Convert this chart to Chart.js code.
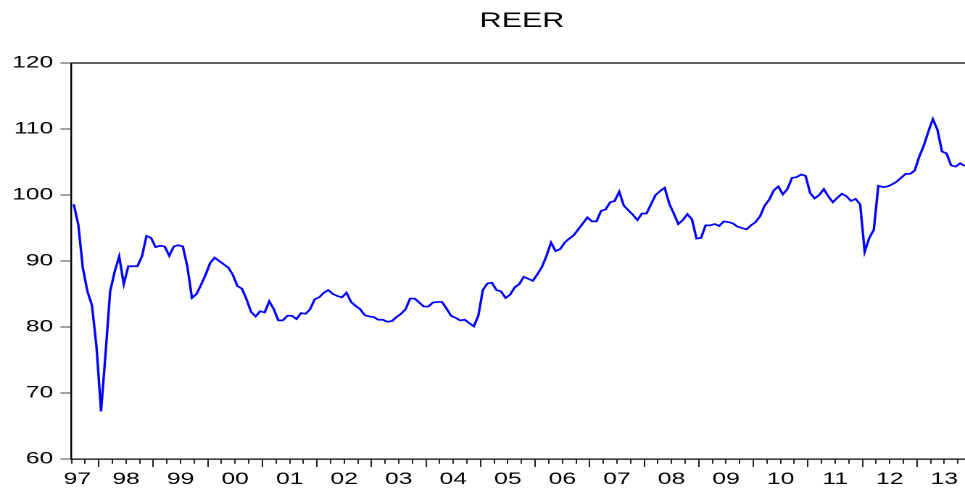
<!DOCTYPE html>
<html>
<head>
<meta charset="utf-8">
<script src="https://cdn.jsdelivr.net/npm/chart.js@4/dist/chart.umd.min.js"></script>
<style>
    html, body { margin: 0; padding: 0; background: #fff; overflow: hidden; }
    /* the source picture is stretched sideways, so the whole chart is widened */
    #wrap { width: 672px; height: 490px; transform: scaleX(1.45); transform-origin: 0 0; }
</style>
</head>
<body>
<div id="wrap"><canvas id="myChart" width="672" height="490" style="width:672px;height:490px"></canvas></div>
<script>
// monthly REER, 1997M07 .. 2013M11
const startYear = 1997;
const startMonth = 7;
const reer = [
    98.6, 95.5, 88.9, 85.4, 83.3, 77.0, 67.2, 76.0, 85.4, 88.4, 90.7, 86.5,
    89.2, 89.2, 89.2, 90.7, 93.8, 93.5, 92.1, 92.3, 92.2, 90.8, 92.2, 92.4,
    92.2, 89.1, 84.4, 85.0, 86.4, 87.9, 89.7, 90.5, 90.0, 89.5, 89.0, 87.9,
    86.2, 85.8, 84.2, 82.3, 81.6, 82.4, 82.2, 83.9, 82.7, 81.0, 81.0, 81.7,
    81.7, 81.2, 82.1, 82.0, 82.7, 84.2, 84.5, 85.2, 85.6, 85.0, 84.7, 84.5,
    85.2, 83.8, 83.2, 82.7, 81.8, 81.6, 81.5, 81.1, 81.1, 80.8, 80.9, 81.5,
    82.0, 82.7, 84.3, 84.3, 83.7, 83.1, 83.1, 83.7, 83.8, 83.8, 82.8, 81.7,
    81.4, 81.0, 81.1, 80.6, 80.1, 81.7, 85.6, 86.6, 86.7, 85.6, 85.4, 84.4,
    84.9, 86.0, 86.5, 87.6, 87.3, 87.0, 88.0, 89.1, 90.8, 92.8, 91.5, 91.8,
    92.8, 93.4, 93.9, 94.8, 95.7, 96.6, 96.0, 96.0, 97.6, 97.8, 98.9, 99.1,
    100.5, 98.4, 97.7, 97.0, 96.2, 97.2, 97.2, 98.6, 100.0, 100.6, 101.1, 98.7,
    97.2, 95.6, 96.2, 97.1, 96.3, 93.4, 93.5, 95.4, 95.4, 95.6, 95.3, 96.0,
    95.9, 95.7, 95.2, 95.0, 94.8, 95.4, 95.9, 96.8, 98.4, 99.3, 100.7, 101.3,
    100.1, 100.9, 102.6, 102.7, 103.1, 102.9, 100.3, 99.5, 100.0, 100.9, 99.8, 98.9,
    99.6, 100.2, 99.8, 99.1, 99.4, 98.6, 91.4, 93.5, 94.7, 101.4, 101.2, 101.3,
    101.6, 102.0, 102.6, 103.2, 103.2, 103.7, 105.8, 107.5, 109.6, 111.5, 109.9, 106.6,
    106.3, 104.5, 104.3, 104.8, 104.4
];
const yearLabels = ['97', '98', '99', '00', '01', '02', '03', '04', '05', '06', '07', '08', '09', '10', '11', '12', '13'];
const yTicks = [60, 70, 80, 90, 100, 110, 120];

// x value = month number from the first observation
const firstJan = 12 - startMonth + 1;          // index of January 1998
const yearStart = firstJan - 0.5;               // boundary between Dec and Jan
// label sits in the middle of each year; the first, partial year is pulled in
const labelPos = yearLabels.map((lab, i) => i === 0 ? 0.8 : yearStart + 12 * (i - 1) + 6);

const same = (a, b) => Math.abs(a - b) < 1e-6;
const isYearTick = v => same(((v - yearStart) % 12 + 12) % 12, 0);
const isQuarterTick = v => same(((v - yearStart) % 3 + 3) % 3, 0);

Chart.defaults.font.family = "'Liberation Sans', Arial, sans-serif";
Chart.defaults.color = '#000';

const topFrame = {
    id: 'topFrame',
    afterDraw(chart) {
        const { ctx, chartArea } = chart;
        ctx.save();
        ctx.strokeStyle = '#000';
        ctx.lineWidth = 1.2;
        ctx.beginPath();
        ctx.moveTo(chartArea.left, chartArea.top);
        ctx.lineTo(chartArea.right, chartArea.top);
        ctx.stroke();
        ctx.restore();
    }
};

const ctx = document.getElementById('myChart').getContext('2d');
const chart = new Chart(ctx, {
    type: 'line',
    data: {
        datasets: [{
            label: 'REER',
            data: reer.map((v, i) => ({ x: i, y: v })),
            borderColor: '#0000ff',
            borderWidth: 1.7,
            pointRadius: 0,
            tension: 0,
            fill: false
        }]
    },
    options: {
        responsive: false,
        devicePixelRatio: 2,
        animation: false,
        layout: { padding: 0 },
        plugins: {
            legend: { display: false },
            tooltip: { enabled: false },
            title: {
                display: true,
                text: 'REER',
                fullSize: false,
                color: '#000',
                font: { size: 21, weight: 'normal' },
                padding: { top: 8.4, bottom: 29.4 }
            }
        },
        scales: {
            x: {
                type: 'linear',
                min: -0.5,
                max: 197.7,
                afterBuildTicks(scale) {
                    const ticks = [];
                    for (let v = -0.5; v <= scale.max; v += 3) ticks.push({ value: v });
                    labelPos.forEach(p => {
                        if (!ticks.some(t => same(t.value, p))) ticks.push({ value: p });
                    });
                    ticks.sort((a, b) => a.value - b.value);
                    scale.ticks = ticks;
                },
                afterFit(scale) { scale.height = 31; },
                ticks: {
                    autoSkip: false,
                    maxRotation: 0,
                    padding: 2,
                    font: { size: 17 },
                    callback(value) {
                        const i = labelPos.findIndex(p => same(p, value));
                        return i >= 0 ? yearLabels[i] : '';
                    }
                },
                grid: {
                    drawOnChartArea: false,
                    tickLength: 8,
                    tickWidth: 1,
                    tickColor: c => isQuarterTick(c.tick.value) ? '#222' : 'rgba(0,0,0,0)',
                    tickBorderDash: c => isYearTick(c.tick.value) ? [] : [4, 40]
                },
                border: { color: '#000', width: 1.2 }
            },
            y: {
                min: 60,
                max: 120,
                afterBuildTicks(scale) {
                    scale.ticks = yTicks.map(v => ({ value: v }));
                },
                afterFit(scale) { scale.width = 49.3; },
                ticks: { padding: 5, font: { size: 17 } },
                grid: {
                    drawOnChartArea: false,
                    tickLength: 7.6,
                    tickWidth: 1,
                    tickColor: '#444'
                },
                border: { color: '#000', width: 1.2 }
            }
        }
    },
    plugins: [topFrame]
});
</script>
</body>
</html>
